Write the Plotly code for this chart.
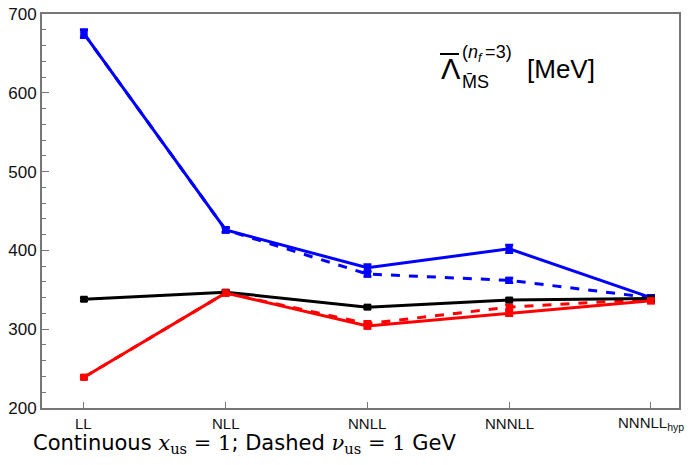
import plotly.graph_objects as go

orders = ["LL", "NLL", "NNLL", "NNNLL", "NNNLL<sub>hyp</sub>"]
xi = [0, 1, 2, 3, 4]

blue_cont = [675, 426, 378, 402, 340]
blue_cont_err = [5, 3, 4, 5, 3]
blue_dash = [675, 426, 370, 362, 340]
blue_dash_err = [5, 3, 3, 3, 3]
black_cont = [338, 347, 328, 337, 339]
black_err = [2, 2, 2, 2, 2]
red_cont = [239, 346, 304, 320, 336]
red_cont_err = [2, 3, 3, 3, 3]
red_dash = [239, 346, 307, 328, 338]
red_dash_err = [2, 3, 3, 3, 3]

fig = go.Figure()

def add(y, err, color, dash):
    fig.add_trace(go.Scatter(
        x=xi, y=y, mode="lines+markers",
        line=dict(color=color, width=3, dash=dash),
        marker=dict(symbol="square", size=7, color=color),
        error_y=dict(type="data", array=err, color=color, thickness=2.5, width=4),
        showlegend=False,
    ))

add(blue_dash, blue_dash_err, "#0000ff", "dash")
add(red_dash, red_dash_err, "#ff0000", "dash")
add(blue_cont, blue_cont_err, "#0000ff", "solid")
add(black_cont, black_err, "#000000", "solid")
add(red_cont, red_cont_err, "#ff0000", "solid")

fig.update_layout(
    width=689, height=465,
    margin=dict(l=42, r=10, t=14, b=57, autoexpand=False),
    plot_bgcolor="white", paper_bgcolor="white",
    font=dict(family="Liberation Sans", color="#111111"),
    xaxis=dict(
        range=[-0.296, 4.198], tickmode="array", tickvals=xi, ticktext=[""] * len(xi),
        showgrid=False, zeroline=False, showline=True, linecolor="#777777", linewidth=2,
        mirror=True, ticks="inside", ticklen=6, tickcolor="#777777", automargin=False,
    ),
    yaxis=dict(
        range=[200, 700], tickmode="array", tickvals=[200, 300, 400, 500, 600, 700],
        showgrid=False, zeroline=False, showline=True, linecolor="#777777", linewidth=2,
        mirror=True, ticks="inside", ticklen=7, tickcolor="#777777", automargin=False,
        tickfont=dict(size=17, family="Liberation Sans"),
        minor=dict(dtick=20, ticks="inside", ticklen=4, tickcolor="#777777"),
    ),
)

def px(x):
    return (x - 42) / 637.0

def py(y):
    return (408 - y) / 394.0

for i, lab in zip(xi, orders):
    fig.add_annotation(xref="x", yref="paper", x=i, y=py(424), xanchor="center", yanchor="middle",
                       text=lab, showarrow=False,
                       font=dict(size=15, family="Liberation Sans", color="#111111"))

fig.add_annotation(xref="paper", yref="paper", x=px(439), y=py(69), xanchor="left", yanchor="middle",
                   text="Λ", showarrow=False, font=dict(size=29, family="Liberation Sans", color="black"))
fig.add_shape(type="line", xref="paper", yref="paper", x0=px(440), x1=px(459), y0=py(54), y1=py(54),
              line=dict(color="black", width=2))
fig.add_annotation(xref="paper", yref="paper", x=px(460), y=py(53), xanchor="left", yanchor="middle",
                   text="(<i>n</i><sub><i>f</i></sub>\u2009=3)", showarrow=False,
                   font=dict(size=18, family="Liberation Sans", color="black"))
fig.add_annotation(xref="paper", yref="paper", x=px(460), y=py(82), xanchor="left", yanchor="middle",
                   text="M̄S", showarrow=False, font=dict(size=18, family="Liberation Sans", color="black"))
fig.add_annotation(xref="paper", yref="paper", x=px(525), y=py(69), xanchor="left", yanchor="middle",
                   text="[MeV]", showarrow=False, font=dict(size=26, family="Liberation Sans", color="black"))

fig.add_annotation(xref="paper", yref="paper", x=px(31), y=py(444), xanchor="left", yanchor="middle",
                   text=("Continuous <span style=\"font-family:'DejaVu Serif'\"><i>x</i><sub>us</sub> = 1</span>; "
                         "Dashed <span style=\"font-family:'DejaVu Serif'\"><i>ν</i><sub>us</sub> = 1</span> GeV"),
                   showarrow=False, font=dict(size=21, family="DejaVu Sans", color="black"))

fig.write_html("out.html")
